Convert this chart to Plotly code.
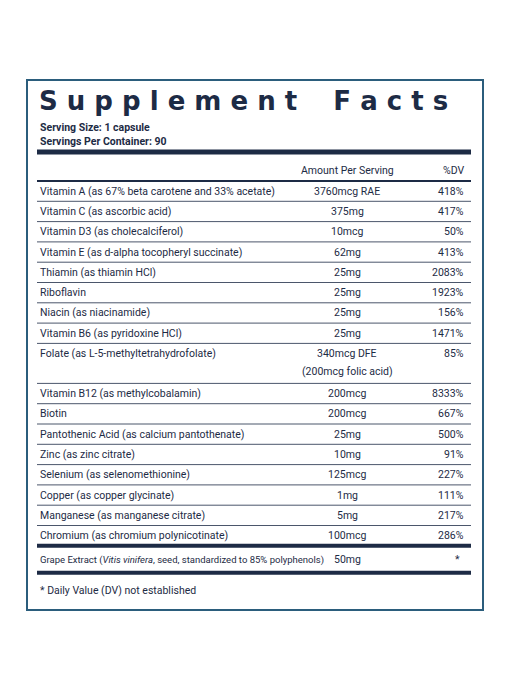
import plotly.graph_objects as go

TITLE = "Supplement  Facts"
SERVING_SIZE = "Serving Size: 1 capsule"
SERVINGS = "Servings Per Container: 90"

NUTRIENTS = [
    "Vitamin A (as 67% beta carotene and 33% acetate)",
    "Vitamin C (as ascorbic acid)",
    "Vitamin D3 (as cholecalciferol)",
    "Vitamin E (as d-alpha tocopheryl succinate)",
    "Thiamin (as thiamin HCl)",
    "Riboflavin",
    "Niacin (as niacinamide)",
    "Vitamin B6 (as pyridoxine HCl)",
    "Folate (as L-5-methyltetrahydrofolate)",
    "Vitamin B12 (as methylcobalamin)",
    "Biotin",
    "Pantothenic Acid (as calcium pantothenate)",
    "Zinc (as zinc citrate)",
    "Selenium (as selenomethionine)",
    "Copper (as copper glycinate)",
    "Manganese (as manganese citrate)",
    "Chromium (as chromium polynicotinate)",
]
AMOUNTS = ["3760mcg RAE", "375mg", "10mcg", "62mg", "25mg", "25mg", "25mg", "25mg",
           "340mcg DFE<br>(200mcg folic acid)", "200mcg", "200mcg", "25mg", "10mg",
           "125mcg", "1mg", "5mg", "100mcg"]
DV = ["418%", "417%", "50%", "413%", "2083%", "1923%", "156%", "1471%", "85%",
      "8333%", "667%", "500%", "91%", "227%", "111%", "217%", "286%"]
EXTRA_NAME = "Grape Extract (<i>Vitis vinifera</i>, seed, standardized to 85% polyphenols)"
EXTRA_AMOUNT = "50mg"
EXTRA_DV = "*"
FOOTNOTE = "* Daily Value (DV) not established"

INK = "#1d2b45"
BORDER = "#2b5d7c"
FONT = "Liberation Sans Narrow, Roboto, sans-serif"

fig = go.Figure()
ann = []
shapes = []

def text(x, y, s, size=10.5, anchor="left", bold=False):
    ann.append(dict(x=x, y=y, text=f"<b>{s}</b>" if bold else s, showarrow=False,
                    xanchor=anchor, yanchor="middle",
                    font=dict(size=size, color=INK, family=FONT)))

def hline(y, w=1, x0=37, x1=471):
    shapes.append(dict(type="line", x0=x0, x1=x1, y0=y, y1=y, line=dict(color=INK, width=w)))

shapes.append(dict(type="rect", x0=27, x1=483, y0=80, y1=610, line=dict(color=BORDER, width=2)))
ann.append(dict(x=37, y=101, text="<b>S u p p l e m e n t    F a c t s</b>", showarrow=False,
                xanchor="left", yanchor="middle",
                font=dict(size=26, color=INK, family="DejaVu Sans, sans-serif")))
text(38, 127, SERVING_SIZE, 10.5, bold=True)
text(38, 141, SERVINGS, 10.5, bold=True)
hline(152, 5)
text(347, 170, "Amount Per Serving", anchor="center")
text(466, 170, "%DV", anchor="right")
hline(181, 2)

y = 181
for name, amt, dv in zip(NUTRIENTS, AMOUNTS, DV):
    if "<br>" in amt:
        h = 40
        first, second = amt.split("<br>")
        text(38, y + 10, name)
        text(347, y + 10, first, anchor="center")
        text(347, y + 28, second, anchor="center")
        text(466, y + 10, dv, anchor="right")
    else:
        h = 20.3
        text(38, y + h / 2, name)
        text(347, y + h / 2, amt, anchor="center")
        text(466, y + h / 2, dv, anchor="right")
    y += h
    hline(y, 0.8)
hline(y, 4)
text(38, y + 14, EXTRA_NAME, 9.5)
text(347, y + 14, EXTRA_AMOUNT, anchor="center")
text(462, y + 14, EXTRA_DV, anchor="right")
hline(y + 27, 4)
text(38, y + 45, FOOTNOTE)

# the page adds an 8px body margin, so shift the coordinate frame to compensate
fig.update_layout(
    width=510, height=691, margin=dict(l=0, r=0, t=0, b=0),
    paper_bgcolor="white", plot_bgcolor="white", showlegend=False,
    xaxis=dict(range=[8, 518], visible=False, fixedrange=True),
    yaxis=dict(range=[699, 8], visible=False, fixedrange=True),
    annotations=ann, shapes=shapes,
)
fig.write_html("out.html")
